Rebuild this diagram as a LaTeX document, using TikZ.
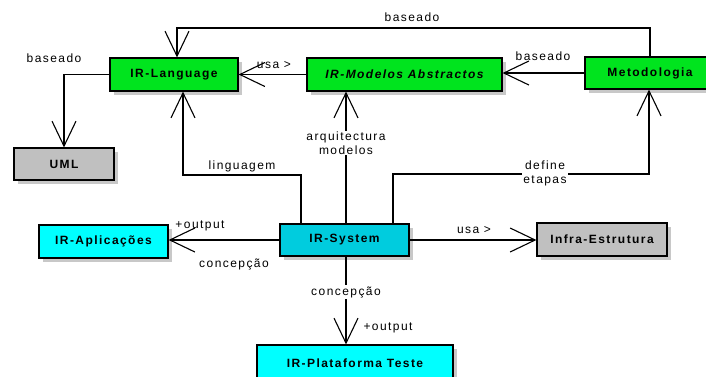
\documentclass[tikz,border=0pt]{standalone}
\usepackage{fontspec}
\setmainfont{Liberation Sans}
\usetikzlibrary{arrows.meta,shadows}
\definecolor{boxgreen}{RGB}{0,228,30}
\definecolor{boxcyan}{RGB}{0,255,255}
\definecolor{syscyan}{RGB}{0,204,222}
\definecolor{boxgray}{RGB}{192,192,192}
\definecolor{shadowgray}{RGB}{200,200,200}
\tikzset{
  box/.style={draw, line width=1.2pt, inner sep=0pt, font=\fontsize{12}{14}\selectfont\bfseries\addfontfeature{LetterSpace=12},
    general shadow={fill=shadowgray, shadow xshift=4pt, shadow yshift=-4pt}},
  conn/.style={line width=1.1pt},
  arr/.style={conn, -{Straight Barb[length=25pt,width=24pt,line width=1.1pt]}},
  lbl/.style={font=\fontsize{12}{14}\selectfont\addfontfeature{LetterSpace=12}, inner sep=1pt},
  wlbl/.style={lbl, fill=white, align=center}
}
\begin{document}
\begin{tikzpicture}[x=1pt,y=-1pt]
\useasboundingbox (0,0) rectangle (706,376);
\clip (0,0) rectangle (706,376);
\node[box, fill=boxgreen, minimum width=128pt, minimum height=33pt] (lang) at (174,74.5) {IR-Language};
\node[box, fill=boxgray, minimum width=100pt, minimum height=32pt] (uml) at (64,164) {UML};
\node[box, fill=boxgreen, minimum width=195pt, minimum height=33pt] (mod) at (404.5,74.5) {\itshape IR-Modelos Abstractos};
\node[box, fill=boxgreen, minimum width=130pt, minimum height=32pt] (met) at (650,73) {Metodologia};
\node[box, fill=syscyan, minimum width=129pt, minimum height=32pt] (sys) at (344.5,240) {IR-System};
\node[box, fill=boxcyan, minimum width=129pt, minimum height=33pt] (app) at (103.5,241.5) {IR-Aplicações};
\node[box, fill=boxgray, minimum width=130pt, minimum height=33pt] (infra) at (602,239.5) {Infra-Estrutura};
\node[box, fill=boxcyan, minimum width=196pt, minimum height=36pt] (plat) at (355,363) {IR-Plataforma Teste};

\coordinate (top) at (177,28);
\coordinate (l1) at (183,175);
\coordinate (s1) at (301,0);
\coordinate (s2) at (346,0);
\coordinate (s3) at (393,0);
\coordinate (m1) at (649,174);

% Metodologia -> IR-Language (baseado, top)
\draw[arr] (met.north) |- (top) -- (top |- lang.north);
\node[lbl] (t1) at (412,17) {baseado};
% IR-Language -> UML
\draw[arr] (lang.west) -| (uml.north);
\node[lbl] (t2) at (54,58) {baseado};
% Modelos -> Language
\draw[arr] (mod.west) -- (lang.east);
\node[lbl] (t3) at (274,65) {usa >};
% Metodologia -> Modelos
\draw[arr] (met.west) -- (met.west -| mod.east);
\node[lbl] (t4) at (543,56) {baseado};
% System -> Language
\draw[arr] (s1 |- sys.north) |- (l1) -- (l1 |- lang.south);
\node[lbl] (t5) at (242,166) {linguagem};
% System -> Modelos
\draw[arr] (s2 |- sys.north) -- (s2 |- mod.south);
\node[wlbl] (t6) at (346,143) {arquitectura\\modelos};
% System -> Metodologia
\draw[arr] (s3 |- sys.north) |- (m1) -- (m1 |- met.south);
\node[wlbl] (t7) at (545,173) {define\\etapas};
% System -> Aplicacoes
\draw[arr] (sys.west) -- (sys.west -| app.east);
\node[lbl] (t8) at (200,226) {+output};
\node[lbl] (t9) at (234,264) {concepção};
% System -> Infra
\draw[arr] (sys.east) -- (sys.east -| infra.west);
\node[lbl] (t10) at (474,230) {usa >};
% System -> Plataforma
\draw[arr] (s2 |- sys.south) -- (s2 |- plat.north);
\node[wlbl] (t11) at (346,292) {concepção};
\node[lbl] (t12) at (388,328) {+output};
\end{tikzpicture}
\end{document}
